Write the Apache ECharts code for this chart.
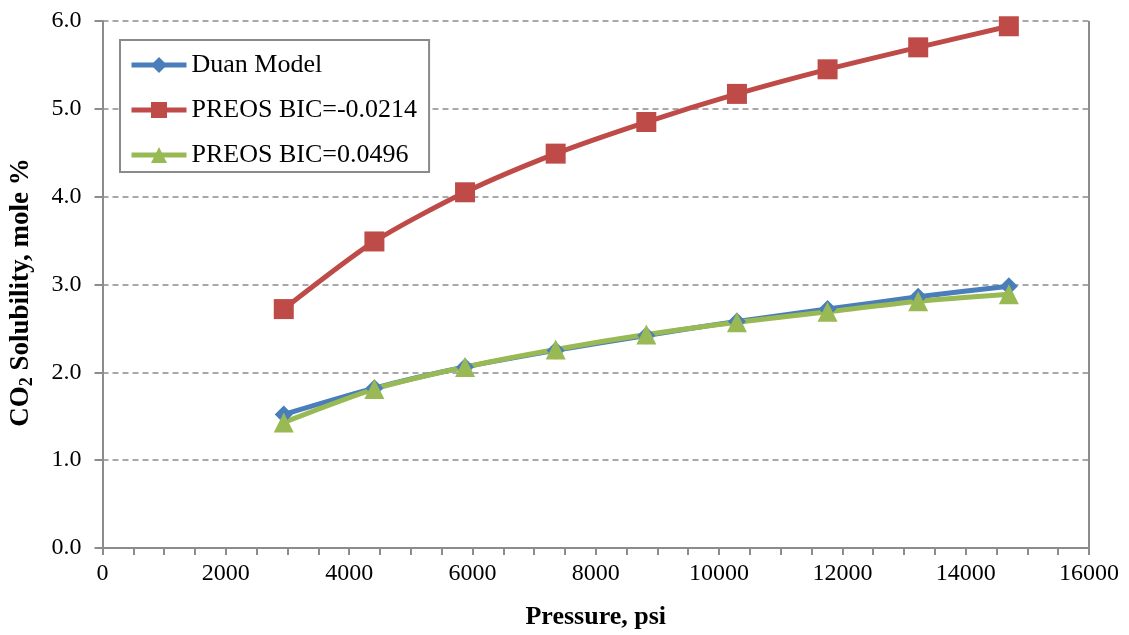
<!DOCTYPE html>
<html>
<head>
<meta charset="utf-8">
<script src="https://cdn.jsdelivr.net/npm/echarts@6/dist/echarts.min.js"></script>
<style>
  html, body { margin: 0; padding: 0; background: #fff; }
  #chart { width: 1129px; height: 635px; }
</style>
</head>
<body>
<div id="chart"></div>
<script>
// Pressure (psi) at which solubility was evaluated
const pressure = [2940, 4410, 5880, 7350, 8820, 10290, 11760, 13230, 14700];
// CO2 solubility, mole %
const duanModel = [1.52, 1.82, 2.06, 2.25, 2.42, 2.58, 2.72, 2.86, 2.98];
const preosNeg = [2.72, 3.49, 4.05, 4.49, 4.85, 5.17, 5.45, 5.70, 5.94];
const preosPos = [1.43, 1.81, 2.06, 2.26, 2.43, 2.57, 2.69, 2.81, 2.89];
const seriesNames = ['Duan Model', 'PREOS BIC=-0.0214', 'PREOS BIC=0.0496'];

const font = '"Liberation Serif", "Times New Roman", serif';
const axisGray = '#8c8c8c';

function pairs(ys) { return pressure.map((x, i) => [x, ys[i]]); }

function lineSeries(name, ys, color, symbol, size) {
  return {
    name: name,
    type: 'line',
    data: pairs(ys),
    smooth: 0.25,
    symbol: symbol,
    symbolSize: size,
    lineStyle: { color: color, width: 5 },
    itemStyle: { color: color },
    emphasis: { disabled: true }
  };
}

const chart = echarts.init(document.getElementById('chart'));
chart.setOption({
  animation: false,
  grid: { left: 100, right: 40, top: 21, bottom: 86 },
  legend: {
    orient: 'vertical',
    left: 120,
    top: 40,
    padding: [12, 12, 4, 9],
    itemGap: 19,
    itemWidth: 55,
    itemHeight: 20,
    borderColor: '#8a8a8a',
    borderWidth: 2,
    backgroundColor: '#fff',
    lineStyle: { width: 5 },
    data: seriesNames,
    textStyle: { fontFamily: font, fontSize: 26, color: '#000' }
  },
  xAxis: {
    type: 'value',
    min: 0, max: 16000, interval: 2000,
    name: 'Pressure, psi',
    nameLocation: 'middle',
    nameGap: 56,
    nameTextStyle: { fontFamily: font, fontSize: 26, fontWeight: 'bold', color: '#000' },
    axisLine: { show: true, lineStyle: { color: axisGray, width: 2 } },
    axisTick: { show: true, inside: false, length: 7, lineStyle: { color: axisGray, width: 2 } },
    minorTick: { show: true, splitNumber: 4, length: 7, lineStyle: { color: axisGray, width: 2 } },
    axisLabel: { fontFamily: font, fontSize: 24, color: '#000', margin: 14, formatter: v => String(v) },
    splitLine: { show: false }
  },
  yAxis: {
    type: 'value',
    min: 0, max: 6, interval: 1,
    name: '{a|CO}{s|2}{a| Solubility, mole %}',
    nameLocation: 'middle',
    nameGap: 66,
    nameTextStyle: {
      padding: [0, 16, 0, 0],
      rich: {
        a: { fontFamily: font, fontSize: 27, fontWeight: 'bold', color: '#000' },
        s: { fontFamily: font, fontSize: 18, fontWeight: 'bold', color: '#000', padding: [12, 0, 0, 0] }
      }
    },
    axisLine: { show: true, lineStyle: { color: axisGray, width: 2 } },
    axisTick: { show: true, inside: false, length: 8, lineStyle: { color: axisGray, width: 2 } },
    axisLabel: { fontFamily: font, fontSize: 24, color: '#000', margin: 21, formatter: v => v.toFixed(1) },
    splitLine: { show: true, lineStyle: { color: '#8c8c8c', width: 1.5, type: [6, 4] } }
  },
  series: [
    lineSeries(seriesNames[0], duanModel, '#4a7ebb', 'diamond', 18),
    lineSeries(seriesNames[1], preosNeg, '#be4b48', 'rect', 20),
    lineSeries(seriesNames[2], preosPos, '#98b954', 'triangle', 20)
  ],
  // right border of the plot area
  graphic: [{
    type: 'line',
    shape: { x1: 1089, y1: 21, x2: 1089, y2: 549 },
    style: { stroke: axisGray, lineWidth: 2 },
    z: 0
  }]
});
</script>
</body>
</html>
